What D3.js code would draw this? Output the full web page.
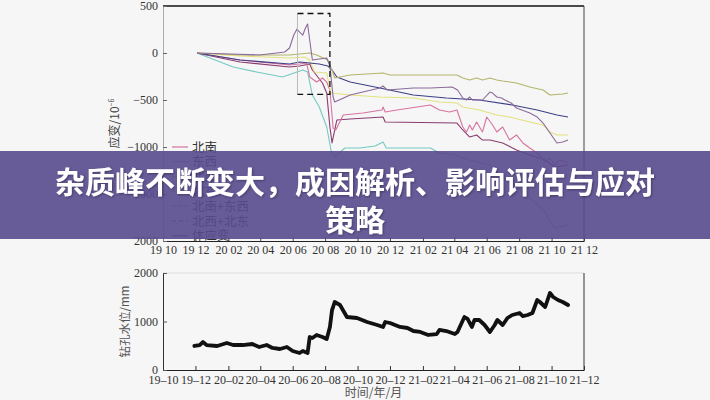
<!DOCTYPE html>
<html><head><meta charset="utf-8">
<script src="https://cdn.jsdelivr.net/npm/d3@7"></script>
<style>
html,body{margin:0;padding:0;background:#f6f6f6;}
svg{display:block;}
</style>
</head><body>
<svg id="chart" width="710" height="400"></svg>
<script>
// ---------- data ----------
const monthTicks = ["2019-10-01","2019-12-01","2020-02-01","2020-04-01","2020-06-01","2020-08-01","2020-10-01","2020-12-01","2021-02-01","2021-04-01","2021-06-01","2021-08-01","2021-10-01","2021-12-01"];
const topTickLabels = ["19 10","19 12","20 02","20 04","20 06","20 08","20 10","20 12","21 02","21 04","21 06","21 08","21 10","21 12"];
const bottomTickLabels = ["19\u201310","19\u201312","20\u201302","20\u201304","20\u201306","20\u201308","20\u201310","20\u201312","21\u201302","21\u201304","21\u201306","21\u201308","21\u201310","21\u201312"];
const strainTicks = [500, 0, -500, -1000, -1500, -2000];
const strainTickLabels = ["500", "0", "\u2212500", "\u22121000", "\u22121500", "2000"];
const levelTicks = [0, 1000, 2000];
const levelTickLabels = ["0", "1000", "2000"];

const seriesNames = ["北南", "东西", "北西", "北东", "北南+东西", "北西+北东", "体应变"];
const seriesColors = ["#d9739f", "#74c9c2", "#b3b56a", "#e2e27e", "#3d3f86", "#8a3c70", "#8b6b9c"];
const legendDash = [null, null, null, null, "1.2,1.8", "4,3", null];

const nsStrain = [["2019-12-04",0],["2020-02-23",-74],["2020-05-26",-128],["2020-06-14",-117],["2020-06-27",-106],["2020-07-03",-255],["2020-07-16",-309],["2020-07-27",-266],["2020-08-04",-309],["2020-08-10",-394],["2020-08-16",-798],["2020-08-21",-819],["2020-09-04",-660],["2020-10-11",-638],["2020-11-16",-606],["2020-11-18",-574],["2020-11-22",-628],["2020-12-14",-606],["2021-02-15",-553],["2021-03-04",-606],["2021-03-23",-628],["2021-04-06",-606],["2021-04-17",-787],["2021-04-24",-840],["2021-04-30",-766],["2021-05-05",-819],["2021-05-13",-734],["2021-05-24",-840],["2021-06-01",-681],["2021-06-12",-766],["2021-06-20",-840],["2021-07-01",-787],["2021-07-14",-926],["2021-07-27",-872],["2021-08-08",-957],["2021-08-21",-1011],["2021-09-09",-1085],["2021-09-19",-1160],["2021-09-28",-1117],["2021-10-07",-1191],["2021-10-16",-1138],["2021-11-01",-1160]];
const ewStrain = [["2019-12-04",0],["2020-02-10",-149],["2020-03-25",-202],["2020-05-13",-255],["2020-06-09",-202],["2020-06-20",-181],["2020-06-29",-202],["2020-07-08",-447],["2020-07-21",-574],["2020-08-04",-787],["2020-08-12",-1032],["2020-08-19",-1106],["2020-09-07",-1011],["2020-10-05",-1011],["2020-11-03",-989],["2020-11-18",-947],["2020-11-24",-1011],["2021-02-15",-1011],["2021-03-04",-1064],["2021-04-02",-1085],["2021-04-30",-1138],["2021-06-07",-1191],["2021-06-25",-1298],["2021-07-23",-1404],["2021-08-21",-1543],["2021-09-19",-1691],["2021-09-28",-1798],["2021-10-07",-1862],["2021-11-01",-1830]];
const nwStrain = [["2019-12-04",0],["2020-02-23",-21],["2020-05-26",-21],["2020-07-03",0],["2020-07-16",-21],["2020-08-06",-74],["2020-08-14",-181],["2020-08-19",-266],["2020-09-17",-234],["2020-11-18",-213],["2020-12-01",-234],["2021-04-06",-234],["2021-04-17",-266],["2021-04-30",-287],["2021-05-13",-266],["2021-05-24",-287],["2021-06-07",-266],["2021-06-20",-287],["2021-07-01",-298],["2021-07-27",-319],["2021-08-21",-362],["2021-09-15",-394],["2021-09-28",-447],["2021-10-22",-436],["2021-11-01",-426]];
const neStrain = [["2019-12-04",0],["2020-02-23",-32],["2020-05-26",-53],["2020-06-23",-43],["2020-07-03",-74],["2020-07-12",-202],["2020-08-04",-213],["2020-08-12",-426],["2020-09-17",-447],["2020-11-12",-468],["2021-01-14",-479],["2021-03-04",-521],["2021-04-06",-532],["2021-04-17",-574],["2021-05-18",-606],["2021-06-20",-660],["2021-07-14",-681],["2021-08-21",-734],["2021-09-15",-766],["2021-09-28",-840],["2021-10-11",-872],["2021-11-01",-872]];
const nsEwStrain = [["2019-12-04",0],["2020-02-23",-74],["2020-05-26",-117],["2020-06-14",-96],["2020-07-21",-117],["2020-08-06",-138],["2020-08-14",-181],["2020-08-23",-255],["2020-09-17",-309],["2020-11-12",-372],["2021-01-14",-447],["2021-03-17",-479],["2021-05-18",-500],["2021-07-19",-553],["2021-09-04",-606],["2021-10-11",-660],["2021-11-01",-681]];
const nwNeStrain = [["2019-12-04",0],["2020-02-23",-96],["2020-05-26",-149],["2020-06-14",-138],["2020-07-03",-117],["2020-07-08",-181],["2020-07-27",-319],["2020-08-04",-426],["2020-08-10",-787],["2020-08-14",-957],["2020-08-23",-713],["2020-09-17",-702],["2020-11-18",-681],["2020-11-22",-734],["2021-04-06",-745],["2021-04-17",-819],["2021-04-30",-894],["2021-05-13",-872],["2021-05-24",-926],["2021-06-07",-926],["2021-07-01",-957],["2021-07-27",-1032],["2021-08-21",-1085],["2021-09-19",-1138],["2021-10-07",-1213],["2021-11-01",-1191]];
const volStrain = [["2019-12-04",0],["2020-02-05",-11],["2020-03-30",-21],["2020-05-02",0],["2020-05-17",11],["2020-05-26",53],["2020-06-03",191],["2020-06-09",255],["2020-06-14",223],["2020-06-20",191],["2020-06-25",266],["2020-06-29",309],["2020-07-03",138],["2020-07-08",-74],["2020-07-21",-64],["2020-08-04",-53],["2020-08-10",-138],["2020-08-16",-468],["2020-08-19",-521],["2020-09-17",-447],["2020-11-12",-372],["2020-11-18",-351],["2020-11-26",-394],["2021-01-14",-372],["2021-02-15",-372],["2021-03-28",-362],["2021-04-07",-394],["2021-04-17",-479],["2021-04-24",-500],["2021-04-30",-468],["2021-05-05",-500],["2021-05-24",-500],["2021-06-07",-415],["2021-06-12",-426],["2021-06-20",-468],["2021-06-29",-479],["2021-07-05",-500],["2021-07-17",-532],["2021-07-27",-585],["2021-08-21",-638],["2021-09-04",-681],["2021-09-15",-745],["2021-09-28",-851],["2021-10-11",-957],["2021-10-22",-947],["2021-11-01",-926]];

const waterLevel = [["2019-11-29",495],["2019-12-09",515],["2019-12-15",577],["2019-12-22",515],["2020-01-11",495],["2020-01-29",557],["2020-02-10",515],["2020-02-28",515],["2020-03-17",536],["2020-03-30",474],["2020-04-13",515],["2020-04-24",454],["2020-05-08",433],["2020-05-21",474],["2020-06-01",392],["2020-06-14",351],["2020-06-20",392],["2020-06-29",351],["2020-07-03",680],["2020-07-08",660],["2020-07-16",722],["2020-07-27",680],["2020-08-04",639],["2020-08-10",887],["2020-08-14",1237],["2020-08-16",1299],["2020-08-19",1402],["2020-08-29",1340],["2020-09-11",1093],["2020-09-30",1072],["2020-10-19",990],["2020-11-07",928],["2020-11-18",887],["2020-11-22",990],["2020-12-01",969],["2020-12-20",887],["2021-01-03",866],["2021-01-14",804],["2021-01-27",784],["2021-02-11",722],["2021-02-27",742],["2021-03-04",825],["2021-03-17",804],["2021-04-02",742],["2021-04-07",784],["2021-04-20",1093],["2021-04-26",1052],["2021-05-04",887],["2021-05-09",1031],["2021-05-18",1031],["2021-05-28",928],["2021-06-07",784],["2021-06-16",928],["2021-06-21",1031],["2021-07-01",928],["2021-07-10",1072],["2021-07-19",1134],["2021-08-02",1175],["2021-08-08",1113],["2021-08-17",1134],["2021-08-26",1175],["2021-09-04",1443],["2021-09-09",1402],["2021-09-19",1299],["2021-09-28",1588],["2021-10-04",1505],["2021-10-13",1443],["2021-10-22",1402],["2021-11-01",1340]];

const boxDates = ["2020-06-10", "2020-08-10"];
const boxValues = [420, -440];

const titleLines = ["杂质峰不断变大，成因解析、影响评估与应对", "策略"];
const topYTitle = ["应变/10", "\u22126"];
const bottomYTitle = "钻孔水位/mm";
const xTitle = "时间/年/月";

// ---------- drawing ----------
const parse = d3.timeParse("%Y-%m-%d");
const svg = d3.select("#chart");
const serif = "'Liberation Serif','DejaVu Serif',serif";
const cjk = "'Noto Sans CJK SC','Noto Sans',sans-serif";

svg.append("rect").attr("width", 710).attr("height", 400).attr("fill", "#f6f6f6");

const x = d3.scaleTime().domain([parse(monthTicks[0]), parse(monthTicks[monthTicks.length - 1])]).range([163, 584]);
const yTop = d3.scaleLinear().domain([-2000, 500]).range([241, 6]);
const yBot = d3.scaleLinear().domain([0, 2000]).range([370, 273]);

// top chart frame
const topG = svg.append("g");
topG.append("line").attr("x1", x.range()[0]).attr("x2", x.range()[1]).attr("y1", yTop(500)).attr("y2", yTop(500)).attr("stroke", "#111").attr("stroke-width", 1.3);
topG.append("line").attr("x1", x.range()[1]).attr("x2", x.range()[1]).attr("y1", yTop(500)).attr("y2", yTop(-2000)).attr("stroke", "#444").attr("stroke-width", 1);

const topX = topG.append("g").attr("transform", `translate(0,${yTop(-2000)})`)
  .call(d3.axisBottom(x).tickValues(monthTicks.map(parse)).tickFormat((d, i) => topTickLabels[i]).tickSizeInner(-4).tickSizeOuter(0).tickPadding(4));
topX.select(".domain").attr("stroke", "#222").attr("stroke-width", 1.2);
topX.selectAll(".tick line").attr("stroke", "#444");
topX.selectAll("text").attr("font-family", serif).attr("font-size", 12).attr("fill", "#333");

const topY = topG.append("g").attr("transform", `translate(${x.range()[0]},0)`)
  .call(d3.axisLeft(yTop).tickValues(strainTicks).tickFormat((d, i) => strainTickLabels[i]).tickSizeInner(-4).tickSizeOuter(0).tickPadding(5));
topY.select(".domain").attr("stroke", "#999").attr("stroke-width", 0.8);
topY.selectAll(".tick line").attr("stroke", "#666");
topY.selectAll("text").attr("font-family", serif).attr("font-size", 12).attr("fill", "#333");

// y title top
const t1 = topG.append("text").attr("transform", `translate(119,${(yTop(500) + yTop(-2000)) / 2}) rotate(-90)`)
  .attr("text-anchor", "middle").attr("font-size", 12).attr("fill", "#444").attr("font-family", cjk);
t1.append("tspan").text(topYTitle[0]);
t1.append("tspan").attr("font-size", 7).attr("dy", -5).text(topYTitle[1]);

// strain lines
const allSeries = [nsStrain, ewStrain, nwStrain, neStrain, nsEwStrain, nwNeStrain, volStrain];
const lineTop = d3.line().x(d => x(parse(d[0]))).y(d => yTop(d[1]));
const drawOrder = [1, 5, 0, 3, 4, 2, 6];
drawOrder.forEach(i => {
  topG.append("path").datum(allSeries[i]).attr("d", lineTop).attr("fill", "none")
    .attr("stroke", seriesColors[i]).attr("stroke-width", 1.1).attr("stroke-linejoin", "round");
});

// dashed box
const bx0 = x(parse(boxDates[0])), bx1 = x(parse(boxDates[1]));
const by0 = yTop(boxValues[0]), by1 = yTop(boxValues[1]);
topG.append("line").attr("x1", bx0).attr("x2", bx0).attr("y1", by0).attr("y2", by1).attr("stroke", "#bbb").attr("stroke-width", 1);
topG.append("path").attr("d", `M${bx0},${by0}H${bx1}V${by1}H${bx0}`).attr("fill", "none")
  .attr("stroke", "#111").attr("stroke-width", 1.3).attr("stroke-dasharray", "6,4");

// legend
const leg = topG.append("g");
seriesNames.forEach((n, i) => {
  const ly = 147 + i * 14.8;
  const l = leg.append("line").attr("x1", 172).attr("x2", 188).attr("y1", ly).attr("y2", ly)
    .attr("stroke", i >= 4 ? "#556" : seriesColors[i]).attr("stroke-width", 1.2);
  if (legendDash[i]) l.attr("stroke-dasharray", legendDash[i]);
  leg.append("text").attr("x", 192).attr("y", ly + 4.5).attr("font-size", 12.5).attr("fill", "#333")
    .attr("font-family", cjk).text(n);
});

// bottom chart
const botG = svg.append("g");
botG.append("line").attr("x1", x.range()[0]).attr("x2", x.range()[1]).attr("y1", yBot(2000)).attr("y2", yBot(2000)).attr("stroke", "#ddd").attr("stroke-width", 1);
botG.append("line").attr("x1", x.range()[1]).attr("x2", x.range()[1]).attr("y1", yBot(2000)).attr("y2", yBot(0)).attr("stroke", "#333").attr("stroke-width", 1);

const botX = botG.append("g").attr("transform", `translate(0,${yBot(0)})`)
  .call(d3.axisBottom(x).tickValues(monthTicks.map(parse)).tickFormat((d, i) => bottomTickLabels[i]).tickSizeInner(-4).tickSizeOuter(0).tickPadding(5));
botX.select(".domain").attr("stroke", "#222").attr("stroke-width", 1.2);
botX.selectAll(".tick line").attr("stroke", "#333");
botX.selectAll("text").attr("font-family", serif).attr("font-size", 12).attr("fill", "#333");

const botY = botG.append("g").attr("transform", `translate(${x.range()[0]},0)`)
  .call(d3.axisLeft(yBot).tickValues(levelTicks).tickFormat((d, i) => levelTickLabels[i]).tickSizeInner(-4).tickSizeOuter(0).tickPadding(5));
botY.select(".domain").attr("stroke", "#333").attr("stroke-width", 1);
botY.selectAll(".tick line").attr("stroke", "#555");
botY.selectAll("text").attr("font-family", serif).attr("font-size", 12).attr("fill", "#333");

botG.append("text").attr("transform", `translate(129,${(yBot(0) + yBot(2000)) / 2}) rotate(-90)`)
  .attr("text-anchor", "middle").attr("font-size", 11.5).attr("fill", "#555").attr("font-family", cjk).text(bottomYTitle);
botG.append("text").attr("x", (x.range()[0] + x.range()[1]) / 2).attr("y", 397).attr("text-anchor", "middle")
  .attr("font-size", 12).attr("fill", "#555").attr("font-family", cjk).text(xTitle);

const lineBot = d3.line().x(d => x(parse(d[0]))).y(d => yBot(d[1]));
botG.append("path").datum(waterLevel).attr("d", lineBot).attr("fill", "none")
  .attr("stroke", "#111").attr("stroke-width", 3.8).attr("stroke-linejoin", "round").attr("stroke-linecap", "round");

// banner overlay
const defs = svg.append("defs");
const f = defs.append("filter").attr("id", "shadow").attr("x", "-10%").attr("y", "-20%").attr("width", "120%").attr("height", "140%");
f.append("feDropShadow").attr("dx", 1).attr("dy", 1).attr("stdDeviation", 1.2).attr("flood-color", "#000").attr("flood-opacity", 0.35);

svg.append("rect").attr("x", 0).attr("y", 151).attr("width", 710).attr("height", 88)
  .attr("fill", "rgb(88,74,142)").attr("fill-opacity", 0.9);
titleLines.forEach((t, i) => {
  svg.append("text").attr("x", 355).attr("y", 193 + i * 38).attr("text-anchor", "middle")
    .attr("font-family", cjk).attr("font-weight", 700).attr("font-size", 30).attr("fill", "#fff")
    .attr("filter", "url(#shadow)").text(t);
});
</script>
</body></html>
